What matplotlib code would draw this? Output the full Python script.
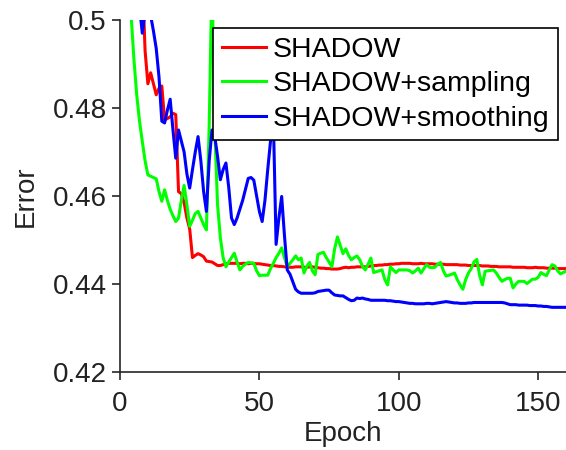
import numpy as np
import matplotlib
matplotlib.use('Agg')
import matplotlib.pyplot as plt

plt.rcParams['font.family'] = ['Liberation Sans', 'DejaVu Sans']

epochs = np.arange(1, 161)

# SHADOW
shadow = [
    0.60, 0.58, 0.56, 0.545, 0.53, 0.52, 0.512, 0.51, 0.493, 0.4855,
    0.488, 0.4855, 0.483, 0.4845, 0.485, 0.4773, 0.4776, 0.478, 0.4788, 0.4785,
    0.461, 0.4605, 0.4585, 0.455, 0.4525, 0.446, 0.4465, 0.4469, 0.4466, 0.4462,
    0.4452, 0.4451, 0.4450, 0.4446, 0.4442, 0.4442, 0.4444, 0.4446, 0.4447, 0.4447,
    0.4447, 0.4447, 0.4446, 0.4447, 0.4447, 0.4446, 0.4447, 0.4447, 0.4446, 0.4446,
    0.4445, 0.4444, 0.4443, 0.4442, 0.4442, 0.4441, 0.4440, 0.4440, 0.4439, 0.4439,
    0.4438, 0.4438, 0.4439, 0.4439, 0.4439, 0.4438, 0.4438, 0.4439, 0.4439, 0.4438,
    0.4437, 0.4436, 0.4436, 0.4435, 0.4435, 0.4434, 0.4434, 0.4434, 0.4435, 0.4437,
    0.4438, 0.4437, 0.4438, 0.4438, 0.4439, 0.4439, 0.4439, 0.4439, 0.4440, 0.4441,
    0.4442, 0.4442, 0.4443, 0.4443, 0.4444, 0.4444, 0.4445, 0.4445, 0.4446, 0.4446,
    0.4447, 0.4447, 0.4447, 0.4447, 0.4446, 0.4446, 0.4446, 0.4447, 0.4446, 0.4446,
    0.4446, 0.4446, 0.4445, 0.4445, 0.4445, 0.4445, 0.4444, 0.4444, 0.4444, 0.4444,
    0.4444, 0.4443, 0.4443, 0.4443, 0.4442, 0.4442, 0.4442, 0.4442, 0.4442, 0.4441,
    0.4441, 0.4441, 0.4440, 0.4440, 0.4440, 0.4439, 0.4439, 0.4439, 0.4439, 0.4439,
    0.4438, 0.4438, 0.4438, 0.4438, 0.4438, 0.4437, 0.4437, 0.4437, 0.4438, 0.4437,
    0.4437, 0.4437, 0.4436, 0.4436, 0.4436, 0.4436, 0.4435, 0.4435, 0.4435, 0.4435,
]

# SHADOW+sampling
sampling = [
    0.58, 0.55, 0.525, 0.501, 0.491, 0.483, 0.477, 0.4724, 0.468, 0.4648,
    0.4645, 0.4642, 0.4639, 0.461, 0.4588, 0.4614, 0.459, 0.457, 0.4555, 0.4542,
    0.455, 0.459, 0.4624, 0.458, 0.4531, 0.4545, 0.456, 0.4565, 0.455, 0.4535,
    0.4523, 0.476, 0.51, 0.475, 0.458, 0.4505, 0.446, 0.4439, 0.445, 0.446,
    0.447, 0.445, 0.4432, 0.444, 0.4445, 0.4449, 0.4448, 0.4447, 0.443, 0.4419,
    0.442, 0.442, 0.442, 0.4435, 0.4447, 0.446, 0.447, 0.4482, 0.446, 0.4439,
    0.4447, 0.4455, 0.4464, 0.4455, 0.4459, 0.4425, 0.444, 0.4449, 0.443, 0.4421,
    0.4467, 0.447, 0.4472, 0.446, 0.445, 0.4439, 0.448, 0.4507, 0.4488, 0.4469,
    0.448, 0.4465, 0.4455, 0.446, 0.4464, 0.4455, 0.444, 0.4432, 0.4445, 0.4459,
    0.4426, 0.4428, 0.443, 0.4432, 0.441, 0.4398, 0.4439, 0.4432, 0.4426, 0.4432,
    0.4432, 0.4432, 0.4432, 0.443, 0.4425, 0.443, 0.4436, 0.4425, 0.4435, 0.4444,
    0.4438, 0.4437, 0.4438, 0.4445, 0.4449, 0.443, 0.4418, 0.442, 0.4422, 0.4425,
    0.441, 0.4398, 0.4388, 0.441, 0.4425, 0.4435, 0.445, 0.4456, 0.442, 0.4398,
    0.4429, 0.443, 0.4431, 0.4432, 0.4425, 0.4415, 0.4406, 0.441, 0.4413, 0.4413,
    0.4391, 0.44, 0.4406, 0.4406, 0.4406, 0.4401, 0.4406, 0.4411, 0.4411, 0.4415,
    0.4426, 0.4422, 0.4419, 0.4432, 0.4444, 0.4441, 0.443, 0.4423, 0.4426, 0.4429,
]

# SHADOW+smoothing
smoothing = [
    0.60, 0.57, 0.55, 0.53, 0.52, 0.51, 0.503, 0.497, 0.502, 0.503,
    0.501, 0.4975, 0.4935, 0.487, 0.477, 0.4766, 0.4795, 0.482, 0.475, 0.4686,
    0.475, 0.4725, 0.470, 0.465, 0.4618, 0.466, 0.470, 0.4735, 0.468, 0.461,
    0.4565, 0.468, 0.475, 0.4735, 0.469, 0.4637, 0.466, 0.4675, 0.462, 0.455,
    0.4535, 0.455, 0.457, 0.459, 0.4615, 0.464, 0.4642, 0.4636, 0.460, 0.4565,
    0.4542, 0.459, 0.466, 0.4725, 0.478, 0.449, 0.455, 0.4599, 0.451, 0.4432,
    0.4422, 0.4405, 0.4388, 0.4382, 0.4379, 0.4379, 0.4379, 0.4379, 0.4379, 0.4380,
    0.4383, 0.4384, 0.4385, 0.4386, 0.4386, 0.4380, 0.4375, 0.4374, 0.4373, 0.4373,
    0.4369, 0.4365, 0.4362, 0.4363, 0.4368, 0.4367, 0.4368, 0.4366, 0.4365, 0.4363,
    0.4363, 0.4363, 0.4363, 0.4363, 0.4363, 0.4362, 0.4362, 0.4361, 0.4360, 0.4360,
    0.4359, 0.4358, 0.4357, 0.4356, 0.4356, 0.4355, 0.4355, 0.4355, 0.4355, 0.4356,
    0.4356, 0.4355, 0.4356, 0.4357, 0.4358, 0.4359, 0.4360, 0.4359, 0.4358, 0.4357,
    0.4357, 0.4356, 0.4356, 0.4356, 0.4357, 0.4357, 0.4358, 0.4358, 0.4358, 0.4358,
    0.4358, 0.4358, 0.4358, 0.4358, 0.4358, 0.4358, 0.4358, 0.4357, 0.4355, 0.4353,
    0.4353, 0.4353, 0.4352, 0.4352, 0.4352, 0.4352, 0.4351, 0.4351, 0.4351, 0.4350,
    0.4350, 0.4349, 0.4349, 0.4348, 0.4347, 0.4347, 0.4347, 0.4347, 0.4347, 0.4347,
]

labels = ['SHADOW', 'SHADOW+sampling', 'SHADOW+smoothing']
colors = ['#ff0000', '#00ff00', '#0000ff']
xticks = [0, 50, 100, 150]
yticks = [0.42, 0.44, 0.46, 0.48, 0.5]
ytick_labels = ['0.42', '0.44', '0.46', '0.48', '0.5']

fig = plt.figure(figsize=(5.66, 4.5), dpi=100)
ax = fig.add_axes([120 / 566, 78 / 450, 446 / 566, 352 / 450])

for series, lab, col in zip([shadow, sampling, smoothing], labels, colors):
    ax.plot(epochs, series, color=col, lw=2.2, label=lab)

ax.set_xlim(0, 160)
ax.set_ylim(0.42, 0.5)
ax.set_xticks(xticks)
ax.set_yticks(yticks)
ax.set_yticklabels(ytick_labels)

for s in ['top', 'right']:
    ax.spines[s].set_visible(False)
for s in ['left', 'bottom']:
    ax.spines[s].set_color('#262626')
    ax.spines[s].set_linewidth(1.2)
ax.tick_params(direction='out', length=5.5, width=1.2, color='#262626',
               labelsize=20, labelcolor='#222222')
ax.tick_params(axis='y', pad=4)
ax.tick_params(axis='x', pad=8)

ax.set_xlabel('Epoch', fontsize=20, color='#222222', labelpad=3)
ax.set_ylabel('Error', fontsize=20, color='#222222', labelpad=10)

# legend box sits over the top right of the plot
leg = ax.legend(loc='upper right', bbox_to_anchor=(558 / 566, 1 - 28 / 450),
                bbox_transform=fig.transFigure, borderaxespad=0,
                fontsize=20.5, fancybox=False, framealpha=1, edgecolor='black',
                handlelength=1.55, handletextpad=0.25, labelspacing=0.3,
                borderpad=0.3)
leg.get_frame().set_linewidth(1.2)
for line in leg.get_lines():
    line.set_linewidth(2.2)

fig.savefig('out.png', dpi=100)
